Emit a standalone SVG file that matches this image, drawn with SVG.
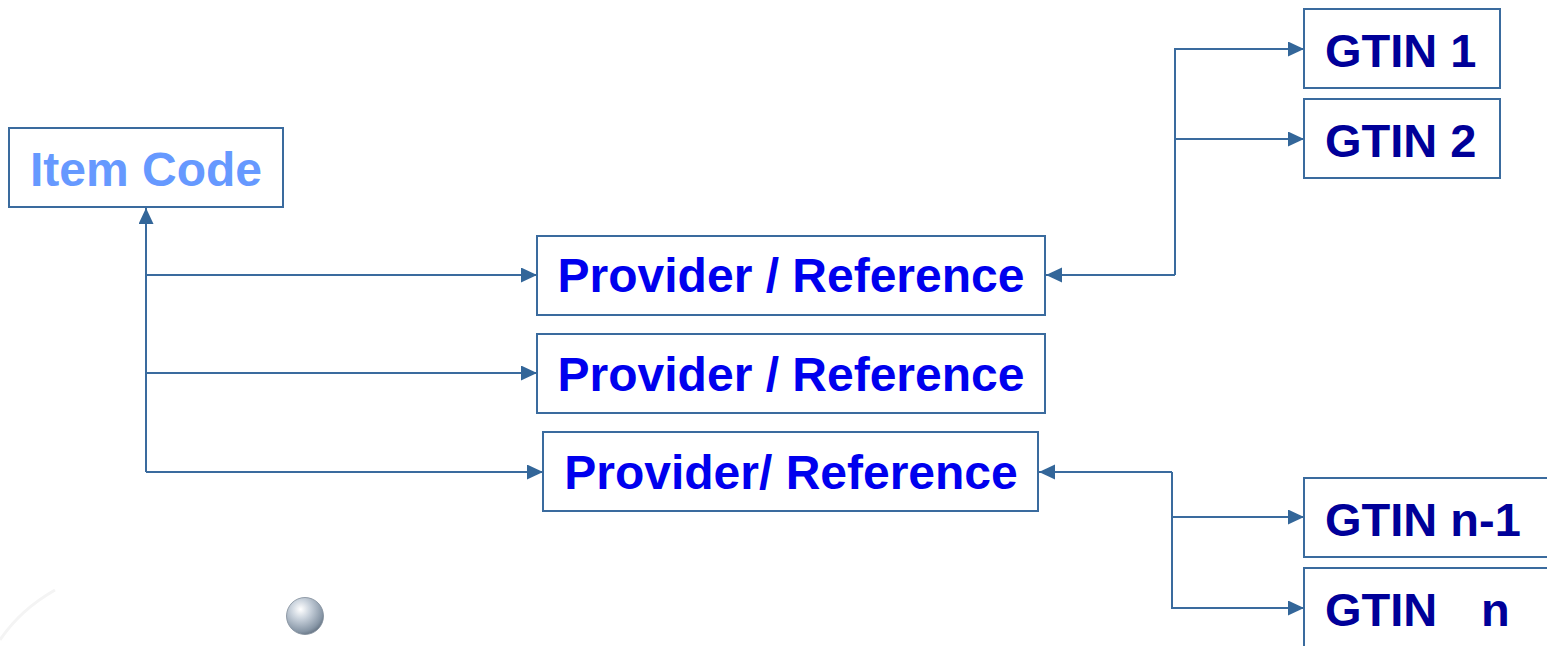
<svg xmlns="http://www.w3.org/2000/svg" width="1547" height="646" viewBox="0 0 1547 646">
<style>
.box{fill:#ffffff;stroke:#3a6b9e;stroke-width:2}
.conn{fill:none;stroke:#3a6b9e;stroke-width:2}
.t{font-family:"Liberation Sans",Arial,sans-serif;font-weight:bold}
.item{fill:#6699ff;font-size:48px}
.prov{fill:#0000ee;font-size:48px}
.gtin{fill:#000099;font-size:47px}
</style>
<defs>
<marker id="arr" markerUnits="userSpaceOnUse" markerWidth="17" markerHeight="16" refX="16" refY="7.5" orient="auto">
<path d="M0,0 L16,7.5 L0,15 Z" fill="#336699"/>
</marker>
<radialGradient id="ball" cx="0.38" cy="0.32" r="0.75">
<stop offset="0" stop-color="#ffffff"/>
<stop offset="0.35" stop-color="#c9d2dc"/>
<stop offset="0.8" stop-color="#8796a6"/>
<stop offset="1" stop-color="#5d6b7a"/>
</radialGradient>
</defs>
<rect width="1547" height="646" fill="#ffffff"/>
<path d="M0,640 Q20,610 55,590" fill="none" stroke="#f4f4f4" stroke-width="3"/>
<circle cx="305" cy="616" r="18.5" fill="url(#ball)" stroke="#7d8a98" stroke-width="0.8"/>
<g id="connectors">
<path class="conn" d="M146,472 V208" marker-end="url(#arr)"/>
<path class="conn" d="M146,275 H537" marker-end="url(#arr)"/>
<path class="conn" d="M146,373 H537" marker-end="url(#arr)"/>
<path class="conn" d="M146,472 H543" marker-end="url(#arr)"/>
<path class="conn" d="M1175,275 H1046" marker-end="url(#arr)"/>
<path class="conn" d="M1175,275 V49 H1304" marker-end="url(#arr)"/>
<path class="conn" d="M1175,139 H1304" marker-end="url(#arr)"/>
<path class="conn" d="M1172,472 H1039" marker-end="url(#arr)"/>
<path class="conn" d="M1172,472 V608 H1304" marker-end="url(#arr)"/>
<path class="conn" d="M1172,517 H1304" marker-end="url(#arr)"/>
</g>
<g id="item-code">
<rect class="box" x="9" y="128" width="274" height="79"/>
<text class="t item" x="146" y="186" text-anchor="middle">Item Code</text>
</g>
<g id="provider-1">
<rect class="box" x="537" y="236" width="508" height="79"/>
<text class="t prov" x="791" y="292" text-anchor="middle">Provider / Reference</text>
</g>
<g id="provider-2">
<rect class="box" x="537" y="334" width="508" height="79"/>
<text class="t prov" x="791" y="391" text-anchor="middle">Provider / Reference</text>
</g>
<g id="provider-3">
<rect class="box" x="543" y="432" width="495" height="79"/>
<text class="t prov" x="791" y="489" text-anchor="middle">Provider/ Reference</text>
</g>
<g id="gtin-1">
<rect class="box" x="1304" y="9" width="196" height="79"/>
<text class="t gtin" x="1325" y="67">GTIN 1</text>
</g>
<g id="gtin-2">
<rect class="box" x="1304" y="99" width="196" height="79"/>
<text class="t gtin" x="1325" y="157">GTIN 2</text>
</g>
<g id="gtin-n-1">
<rect class="box" x="1304" y="478" width="244" height="79"/>
<text class="t gtin" x="1325" y="536">GTIN n-1</text>
</g>
<g id="gtin-n">
<rect class="box" x="1304" y="568" width="244" height="90"/>
<text class="t gtin" x="1325" y="626" xml:space="preserve">GTIN   <tspan x="1481">n</tspan></text>
</g>
</svg>
